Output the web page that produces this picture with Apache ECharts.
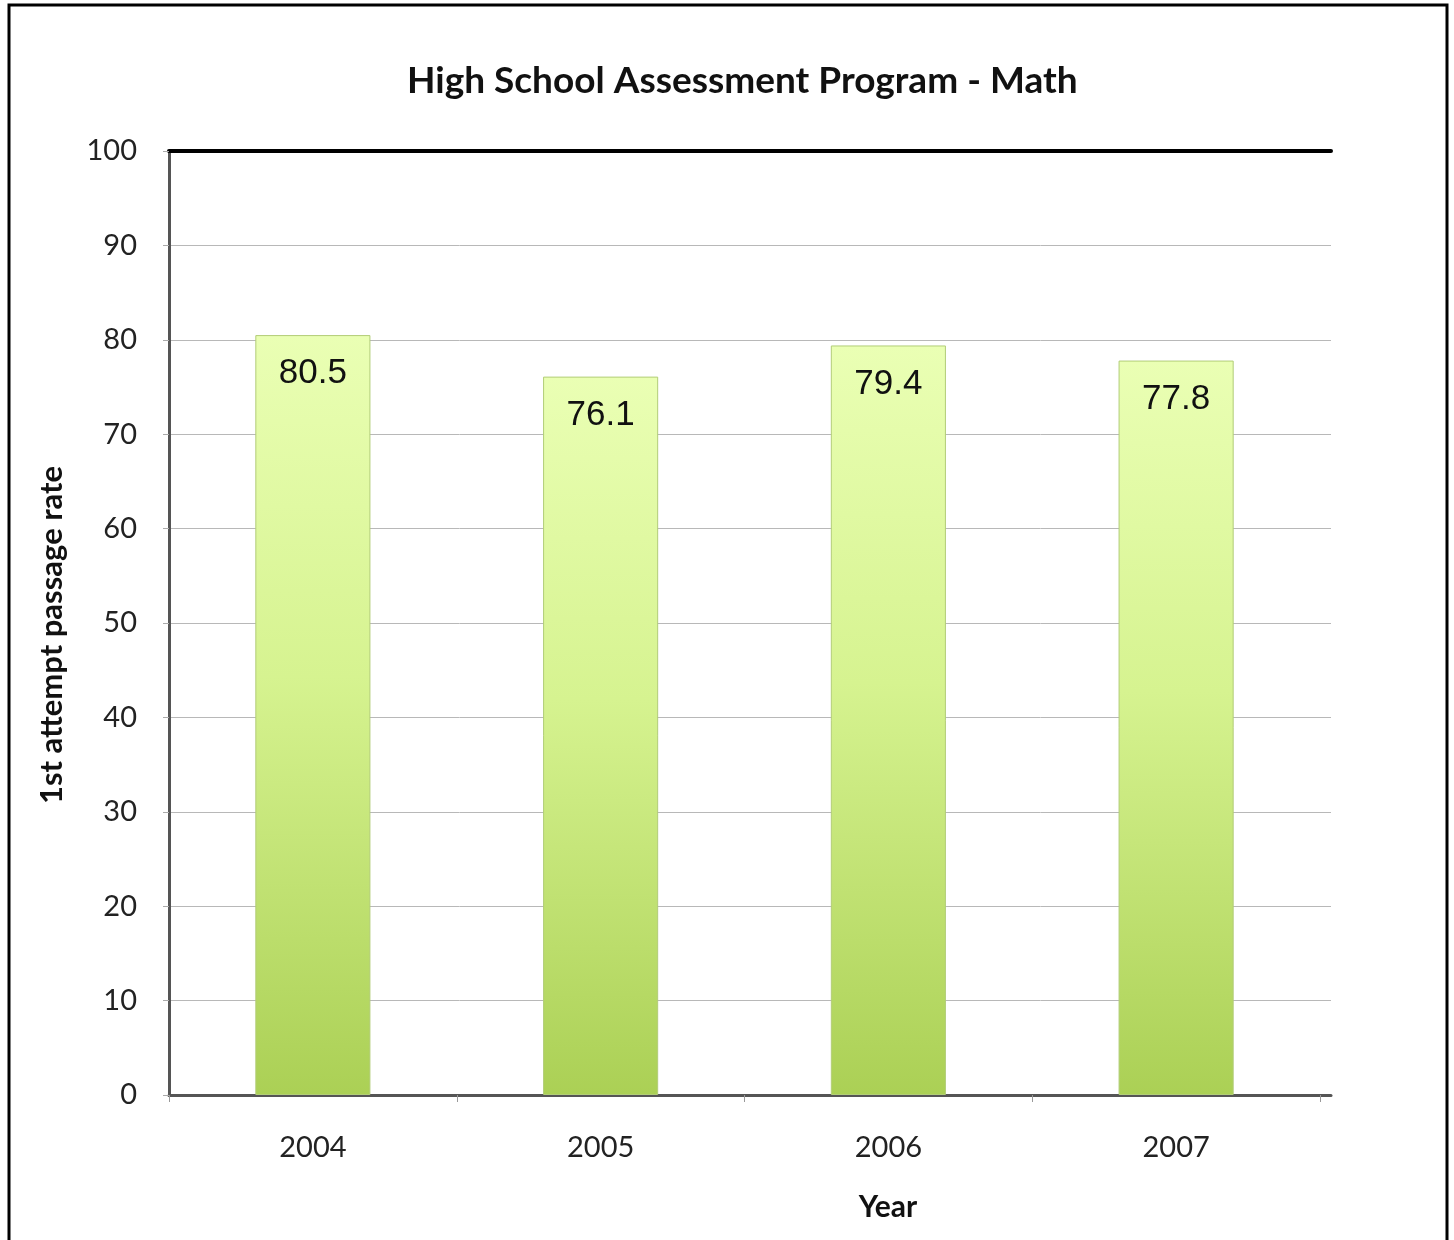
<!DOCTYPE html>
<html>
<head>
<meta charset="utf-8">
<script src="https://cdn.jsdelivr.net/npm/echarts@6/dist/echarts.min.js"></script>
<style>
  html, body { margin: 0; padding: 0; background: #fff; }
  #chart { width: 1454px; height: 1240px; }
</style>
</head>
<body>
<div id="chart"></div>
<script>
// HSAP math first-attempt passage rates by year
const years = ['2004', '2005', '2006', '2007'];
const passRates = [80.5, 76.1, 79.4, 77.8];
const yTicks = { min: 0, max: 100, interval: 10 };

const chart = echarts.init(document.getElementById('chart'), null, { renderer: 'canvas' });

const barFill = new echarts.graphic.LinearGradient(0, 0, 0, 1, [
  { offset: 0, color: '#eaffb4' },
  { offset: 0.45, color: '#d6f390' },
  { offset: 1, color: '#abd055' }
]);

chart.setOption({
  animation: false,
  backgroundColor: '#ffffff',
  textStyle: { fontFamily: 'Lato' },
  title: {
    text: 'High School Assessment Program - Math',
    left: 402,
    top: 58,
    textStyle: { fontFamily: 'Lato', fontWeight: 'bold', fontSize: 37, color: '#111' }
  },
  graphic: [{
    type: 'rect',
    shape: { x: 9, y: 5, width: 1438, height: 1260 },
    style: { fill: 'none', stroke: '#000', lineWidth: 3 },
    silent: true
  }],
  grid: [
    // frame grid: gridlines and axis lines run a little past the last category
    { left: 169, right: 123, top: 151, bottom: 145, containLabel: false },
    // bar grid
    { left: 169, right: 134, top: 151, bottom: 145, containLabel: false }
  ],
  xAxis: [{
    gridIndex: 0,
    type: 'category',
    data: years,
    position: 'bottom',
    axisLine: { lineStyle: { color: '#555', width: 3 } },
    axisTick: { show: false },
    axisLabel: { show: false }
  }, {
    gridIndex: 0,
    type: 'category',
    data: years,
    position: 'top',
    axisLine: { lineStyle: { color: '#000', width: 4 } },
    axisTick: { show: false },
    axisLabel: { show: false }
  }, {
    gridIndex: 1,
    type: 'category',
    data: years,
    position: 'bottom',
    axisLine: { show: false },
    axisTick: { show: true, length: 7, lineStyle: { color: '#999', width: 1 } },
    axisLabel: { color: '#222', fontSize: 29, margin: 38, fontFamily: 'Lato' },
    name: 'Year',
    nameLocation: 'middle',
    nameGap: 97,
    nameTextStyle: {
      fontFamily: 'Lato', fontWeight: 'bold', fontSize: 30, color: '#111',
      padding: [0, 0, 0, 287]
    }
  }],
  yAxis: [{
    gridIndex: 0,
    type: 'value',
    min: yTicks.min,
    max: yTicks.max,
    interval: yTicks.interval,
    axisLine: { show: true, lineStyle: { color: '#555', width: 3 } },
    axisTick: { show: true, length: 6, lineStyle: { color: '#aaa', width: 1 } },
    axisLabel: { color: '#222', fontSize: 29, margin: 32, fontFamily: 'Lato' },
    splitLine: { lineStyle: { color: '#b8b8b8', width: 1 } },
    name: '1st attempt passage rate',
    nameLocation: 'middle',
    nameGap: 102,
    nameTextStyle: {
      fontFamily: 'Lato', fontWeight: 'bold', fontSize: 31, color: '#111',
      padding: [0, 24, 0, 0]
    }
  }, {
    gridIndex: 1,
    type: 'value',
    min: yTicks.min,
    max: yTicks.max,
    interval: yTicks.interval,
    show: false,
    splitLine: { show: false }
  }],
  series: [{
    type: 'bar',
    xAxisIndex: 2,
    yAxisIndex: 1,
    data: passRates,
    barWidth: '40%',
    itemStyle: {
      color: barFill,
      borderColor: '#b2cd78',
      borderWidth: 1
    },
    label: {
      show: true,
      position: 'insideTop',
      distance: 21,
      color: '#111',
      fontSize: 35,
      fontFamily: 'Liberation Sans'
    }
  }]
});
</script>
</body>
</html>
